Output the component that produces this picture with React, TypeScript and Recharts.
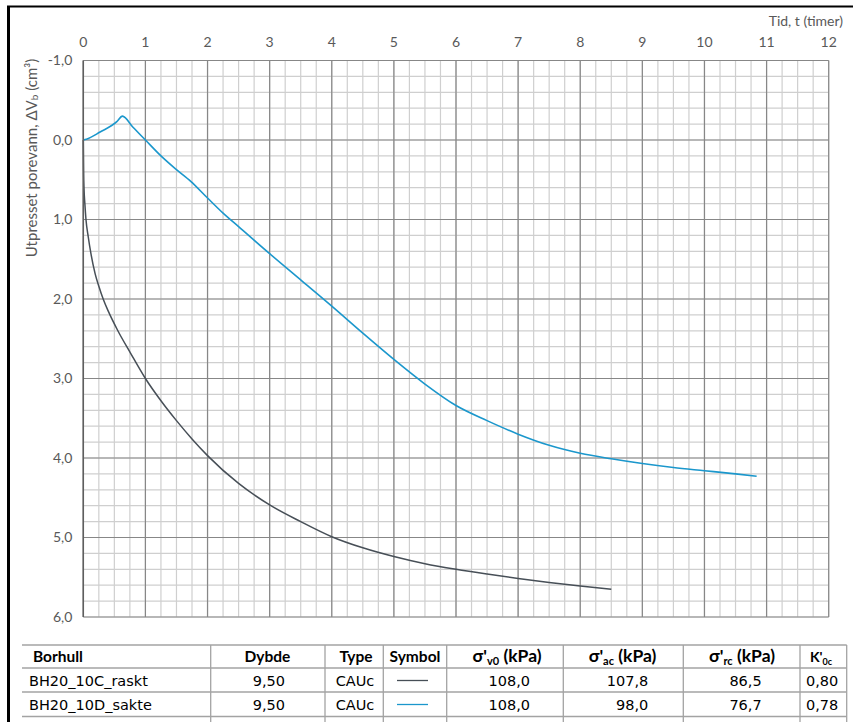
import React from 'react';
import { LineChart, Line, XAxis, YAxis, CartesianGrid } from 'recharts';

// Series: BH20_10C_raskt (dark) and BH20_10D_sakte (blue); t in hours, value in cm3
const rasktT = [0, 0.005, 0.012, 0.025, 0.043, 0.08, 0.123, 0.19, 0.25, 0.32, 0.4, 0.55, 0.76, 1.0, 1.25, 1.5, 1.75, 2.0, 2.5, 3.0, 3.5, 4.0, 4.5, 5.0, 5.5, 6.0, 6.5, 7.0, 7.5, 8.0, 8.5];
const rasktV = [0, 0.4, 0.62, 0.8, 1.0, 1.22, 1.43, 1.68, 1.84, 2.0, 2.15, 2.39, 2.68, 3.0, 3.28, 3.53, 3.76, 3.97, 4.32, 4.59, 4.8, 4.99, 5.13, 5.24, 5.33, 5.4, 5.46, 5.515, 5.565, 5.61, 5.65];
const sakteT = [0, 0.05, 0.27, 0.54, 0.63, 0.8, 1.0, 1.25, 1.48, 1.73, 2.0, 2.25, 2.5, 3.0, 3.5, 4.0, 4.5, 5.0, 5.5, 6.0, 6.5, 7.0, 7.5, 8.0, 8.5, 9.0, 9.5, 10.0, 10.5, 10.84];
const sakteV = [0, -0.01, -0.1, -0.23, -0.3, -0.16, 0.0, 0.2, 0.36, 0.52, 0.73, 0.92, 1.09, 1.43, 1.76, 2.09, 2.43, 2.76, 3.07, 3.34, 3.53, 3.7, 3.84, 3.94, 4.01, 4.07, 4.12, 4.16, 4.2, 4.23];

const xDomain: [number, number] = [0, 12];
const yDomain: [number, number] = [-1, 6];
const xTicks = [0, 1, 2, 3, 4, 5, 6, 7, 8, 9, 10, 11, 12];
const yTicks = [-1, 0, 1, 2, 3, 4, 5, 6];
const xMinorTicks = Array.from({ length: 49 }, (_, i) => i * 0.25);
const yMinorTicks = Array.from({ length: 36 }, (_, i) => Math.round((-1 + i * 0.2) * 10) / 10);

const xTitle = 'Tid, t (timer)';
const yTitleMain = 'Utpresset porevann, ΔV';
const yTitleSub = 'b';
const yTitleEnd = ' (cm³)';

// Table
const boreholes = ['BH20_10C_raskt', 'BH20_10D_sakte'];
const depths = ['9,50', '9,50'];
const types = ['CAUc', 'CAUc'];
const sigmaV0 = ['108,0', '108,0'];
const sigmaAc = ['107,8', '98,0'];
const sigmaRc = ['86,5', '76,7'];
const k0c = ['0,80', '0,78'];
const seriesColors = ['#474f57', '#1b97cc'];

const raskt = rasktT.map((t, i) => ({ t, v: rasktV[i] }));
const sakte = sakteT.map((t, i) => ({ t, v: sakteV[i] }));

const fmt = (v: number) => v.toFixed(1).replace('.', ',');

const TXT = '#595959';
const TABLE_LINE = '#a3a3a3';
const colX = [210.7, 325, 383.3, 446.7, 563.3, 683.3, 800, 846.7];
const rowY = [645, 668, 692, 716.5];

const minorV = (p: any) => {
  const s = p?.xAxis?.scale;
  if (typeof s === 'function') return xMinorTicks.map((t) => s(t));
  const o = p?.offset ?? {};
  return xMinorTicks.map((t) => o.left + ((t - xDomain[0]) / (xDomain[1] - xDomain[0])) * o.width);
};
const minorH = (p: any) => {
  const s = p?.yAxis?.scale;
  if (typeof s === 'function') return yMinorTicks.map((t) => s(t));
  const o = p?.offset ?? {};
  return yMinorTicks.map((t) => o.top + ((t - yDomain[0]) / (yDomain[1] - yDomain[0])) * o.height);
};

export default function App() {
  const tickStyle = { fontFamily: 'Lato', fontSize: 14, fill: TXT };
  const tblFont = 'DejaVu Sans';
  const hdrFont = 'Lato';
  return (
    <div style={{ position: 'absolute', left: 0, top: 0, width: 856, height: 722, background: '#fff' }}>
      <LineChart width={856} height={722} margin={{ top: 0, right: 27.3, bottom: 105, left: 0 }}>
        <XAxis
          type="number"
          dataKey="t"
          orientation="top"
          domain={xDomain}
          ticks={xTicks}
          interval={0}
          height={60.5}
          tickSize={0}
          tickMargin={14}
          axisLine={false}
          tickLine={false}
          tick={tickStyle}
        />
        <YAxis
          type="number"
          domain={yDomain}
          ticks={yTicks}
          interval={0}
          reversed
          width={83.3}
          tickSize={0}
          tickMargin={11}
          tickFormatter={fmt}
          axisLine={{ stroke: '#5e5e5e', strokeWidth: 1.5 }}
          tickLine={false}
          tick={tickStyle}
        />
        <CartesianGrid
          stroke="#cfcfcf"
          strokeWidth={1.2}
          verticalCoordinatesGenerator={minorV}
          horizontalCoordinatesGenerator={minorH}
        />
        <CartesianGrid stroke="#878787" strokeWidth={1.2} />
        <Line data={raskt} dataKey="v" type="monotone" dot={false} stroke={seriesColors[0]} strokeWidth={1.5} isAnimationActive={false} />
        <Line data={sakte} dataKey="v" type="monotone" dot={false} stroke={seriesColors[1]} strokeWidth={1.6} isAnimationActive={false} />
      </LineChart>
      <svg width={856} height={722} style={{ position: 'absolute', left: 0, top: 0, pointerEvents: 'none' }}>
        {/* frame */}
        <rect x={7} y={6} width={3} height={716} fill="#000" />
        <rect x={7} y={5.5} width={846} height={2} fill="#000" />
        {/* axis titles */}
        <text x={843} y={26} textAnchor="end" fontFamily="Lato" fontSize={14} fill={TXT}>{xTitle}</text>
        <text
          x={31}
          y={158}
          textAnchor="middle"
          dominantBaseline="central"
          transform="rotate(-90 31 158)"
          fontFamily="Lato"
          fontSize={15}
          fill={TXT}
        >
          {yTitleMain}
          <tspan fontSize={10} dy={3}>{yTitleSub}</tspan>
          <tspan dy={-3}>{yTitleEnd}</tspan>
        </text>
        {/* table lines */}
        {rowY.map((y, i) => (
          <line key={'h' + i} x1={22} x2={846.7} y1={y} y2={y} stroke={TABLE_LINE} strokeWidth={1.5} />
        ))}
        {colX.map((x, i) => (
          <line key={'v' + i} x1={x} x2={x} y1={645} y2={722} stroke={TABLE_LINE} strokeWidth={1.3} />
        ))}
        {/* header */}
        <g fontFamily={hdrFont} fontWeight="bold" fill="#000">
          <text x={33} y={662} fontSize={15.5}>Borhull</text>
          <text x={267.5} y={662} fontSize={15.5} textAnchor="middle">Dybde</text>
          <text x={356} y={662} fontSize={15.5} textAnchor="middle">Type</text>
          <text x={415} y={662} fontSize={15.5} textAnchor="middle">Symbol</text>
          <text x={507} y={662} fontSize={17.5} textAnchor="middle">
            σ'<tspan fontSize={11} dy={3}>v0</tspan><tspan dy={-3}> (kPa)</tspan>
          </text>
          <text x={622.5} y={662} fontSize={17.5} textAnchor="middle">
            σ'<tspan fontSize={11} dy={3}>ac</tspan><tspan dy={-3}> (kPa)</tspan>
          </text>
          <text x={742} y={662} fontSize={17.5} textAnchor="middle">
            σ'<tspan fontSize={11} dy={3}>rc</tspan><tspan dy={-3}> (kPa)</tspan>
          </text>
          <text x={821} y={662} fontSize={14} textAnchor="middle">
            K'<tspan fontSize={9} dy={3}>0c</tspan>
          </text>
        </g>
        {/* rows */}
        {boreholes.map((b, i) => {
          const y = 685.5 + i * 24;
          return (
            <g key={b} fontFamily={tblFont} fontSize={14.5} fill="#000">
              <text x={29} y={y}>{b}</text>
              <text x={285} y={y} textAnchor="end">{depths[i]}</text>
              <text x={355} y={y} textAnchor="middle">{types[i]}</text>
              <line x1={397} x2={428} y1={y - 5} y2={y - 5} stroke={seriesColors[i]} strokeWidth={1.3} />
              <text x={530} y={y} textAnchor="end">{sigmaV0[i]}</text>
              <text x={648.3} y={y} textAnchor="end">{sigmaAc[i]}</text>
              <text x={761.7} y={y} textAnchor="end">{sigmaRc[i]}</text>
              <text x={838.3} y={y} textAnchor="end">{k0c[i]}</text>
            </g>
          );
        })}
      </svg>
    </div>
  );
}
